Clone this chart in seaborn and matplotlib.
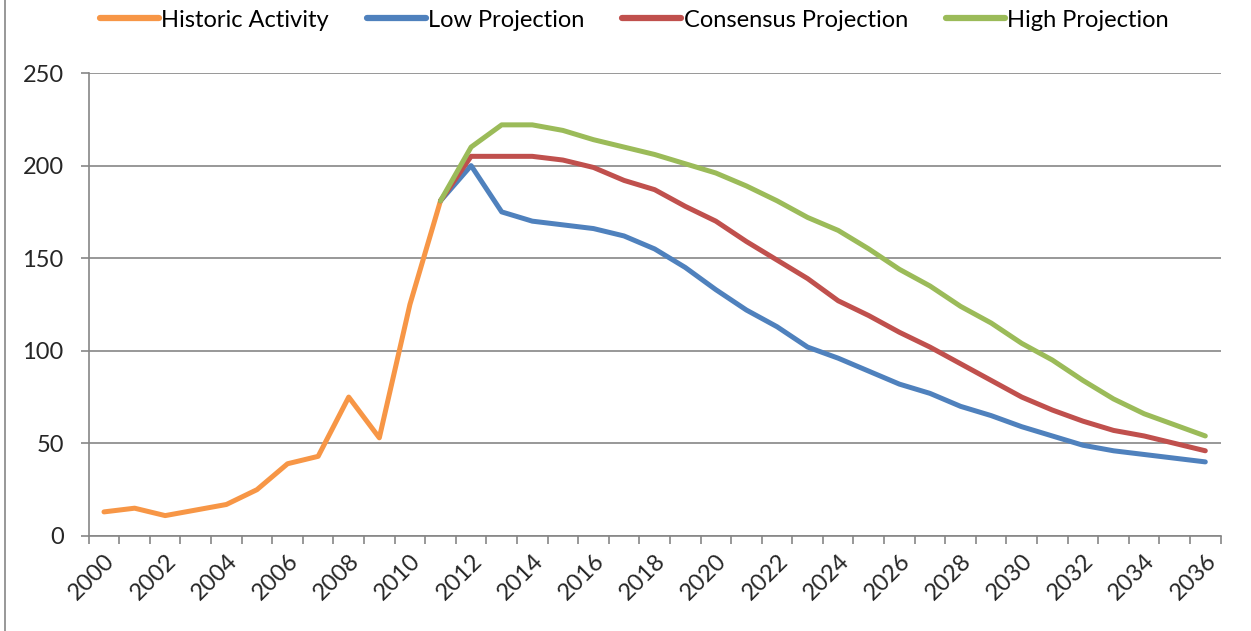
import matplotlib
matplotlib.use("Agg")
import matplotlib.pyplot as plt
from matplotlib.lines import Line2D
import seaborn as sns
import pandas as pd

# Annual activity: history to 2011, then three projection scenarios to 2036
historic_years = list(range(2000, 2012))
historic = [13, 15, 11, 14, 17, 25, 39, 43, 75, 53, 125, 181]

projection_years = list(range(2011, 2037))
low = [181, 200, 175, 170, 168, 166, 162, 155, 145, 133, 122, 113, 102,
       96, 89, 82, 77, 70, 65, 59, 54, 49, 46, 44, 42, 40]
consensus = [181, 205, 205, 205, 203, 199, 192, 187, 178, 170, 159, 149, 139,
             127, 119, 110, 102, 93, 84, 75, 68, 62, 57, 54, 50, 46]
high = [181, 210, 222, 222, 219, 214, 210, 206, 201, 196, 189, 181, 172,
        165, 155, 144, 135, 124, 115, 104, 95, 84, 74, 66, 60, 54]

series_names = ["Historic Activity", "Low Projection",
                "Consensus Projection", "High Projection"]
series_colors = ["#F79646", "#4F81BD", "#C0504D", "#9BBB59"]
y_ticks = [0, 50, 100, 150, 200, 250]
x_label_years = list(range(2000, 2037, 2))

sns.set_theme(style="white")
plt.rcParams["font.family"] = ["Lato", "DejaVu Sans"]
plt.rcParams["text.color"] = "black"

fig = plt.figure(figsize=(12.51, 6.31), dpi=100)
ax = fig.add_axes([0.0709, 0.1506, 0.9048, 0.7337])

frames = [
    pd.DataFrame({"year": historic_years, "value": historic, "series": series_names[0]}),
    pd.DataFrame({"year": projection_years, "value": low, "series": series_names[1]}),
    pd.DataFrame({"year": projection_years, "value": consensus, "series": series_names[2]}),
    pd.DataFrame({"year": projection_years, "value": high, "series": series_names[3]}),
]
df = pd.concat(frames, ignore_index=True)

sns.lineplot(data=df, x="year", y="value", hue="series",
             hue_order=series_names, palette=series_colors,
             linewidth=3.6, ax=ax, legend=False, estimator=None,
             solid_capstyle="round", solid_joinstyle="round")

grid_grey = "#868686"
label_size = 17
ax.set_xlim(1999.5, 2036.5)
ax.set_ylim(0, 250)
ax.set_xlabel("")
ax.set_ylabel("")

ax.set_yticks(y_ticks)
ax.set_yticklabels([str(v) for v in y_ticks])
ax.yaxis.grid(True, color=grid_grey, linewidth=1.2)
ax.xaxis.grid(False)
ax.set_axisbelow(True)
ax.tick_params(axis="y", which="major", left=True, length=6, width=1.2,
               color=grid_grey, pad=12, labelsize=label_size)

# Category boundaries carry the tick marks; labels sit on every second year
ax.set_xticks([y - 0.5 for y in range(2000, 2038)], minor=True)
ax.set_xticks(x_label_years)
ax.set_xticklabels([str(y) for y in x_label_years], rotation=45,
                   ha="right", va="top", rotation_mode="anchor")
ax.tick_params(axis="x", which="major", length=0, pad=10, labelsize=label_size)
ax.tick_params(axis="x", which="minor", bottom=True, length=6, width=1.2,
               color=grid_grey)

for side in ["top", "right"]:
    ax.spines[side].set_visible(False)
for side in ["left", "bottom"]:
    ax.spines[side].set_color(grid_grey)
    ax.spines[side].set_linewidth(1.2)

handles = [Line2D([0], [0], color=c, linewidth=4.5, solid_capstyle="round")
               for c in series_colors]
fig.legend(handles, series_names, loc="center", bbox_to_anchor=(0.507, 0.968),
           ncol=4, frameon=False, fontsize=label_size, handlelength=2.5,
           handletextpad=0.1, columnspacing=1.6)

# Outer chart frame edge on the left
fig.add_artist(Line2D([5 / 1251, 5 / 1251], [0, 1], transform=fig.transFigure,
                      color=grid_grey, linewidth=1.2))

fig.savefig("out.png", dpi=100, facecolor="white")
